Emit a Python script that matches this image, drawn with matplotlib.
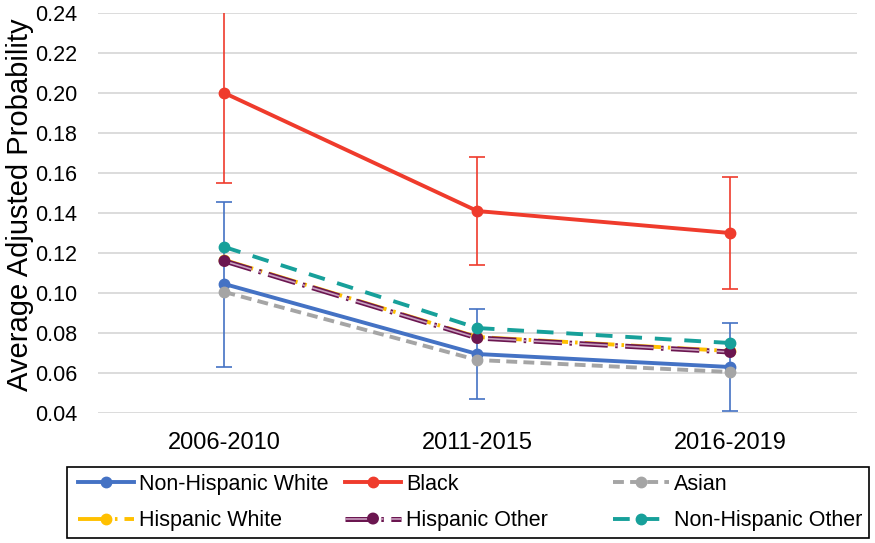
import matplotlib.pyplot as plt
import matplotlib.patheffects as pe
from matplotlib.patches import Rectangle
import numpy as np

plt.rcParams['font.family'] = ['Liberation Sans', 'DejaVu Sans']

# periods on the x axis
periods = ["2006-2010", "2011-2015", "2016-2019"]

# average adjusted probability for each group
nh_white = [0.1045, 0.0695, 0.0630]
black = [0.2000, 0.1410, 0.1300]
asian = [0.1005, 0.0665, 0.0605]
hisp_white = [0.1165, 0.0780, 0.0710]
hisp_other = [0.1160, 0.0775, 0.0705]
nh_other = [0.1230, 0.0825, 0.0750]

# confidence intervals (only shown for two groups)
nh_white_low = [0.0630, 0.0470, 0.0410]
nh_white_high = [0.1455, 0.0920, 0.0850]
black_low = [0.1550, 0.1140, 0.1020]
black_high = [0.2445, 0.1680, 0.1580]

x = np.arange(len(periods))

fig = plt.figure(figsize=(8.75, 5.43), dpi=100)
ax = fig.add_axes([0.112, 0.2394, 0.867, 0.7366])

blue = "#4472C4"
red = "#EF3B2C"
gray = "#A5A5A5"
yellow = "#FFC000"
purple = "#6B1650"
teal = "#17A09A"

# error bars first so they sit behind the lines
ax.errorbar(x, nh_white, yerr=[np.array(nh_white) - nh_white_low, np.array(nh_white_high) - nh_white],
            fmt="none", ecolor=blue, elinewidth=1.2, capsize=6, capthick=1.2, zorder=2)
ax.errorbar(x, black, yerr=[np.array(black) - black_low, np.array(black_high) - black],
            fmt="none", ecolor=red, elinewidth=1.2, capsize=6, capthick=1.2, zorder=2)

l1, = ax.plot(x, nh_white, color=blue, lw=2.8, marker="o", ms=7.5, label="Non-Hispanic White", zorder=3)
l2, = ax.plot(x, black, color=red, lw=2.8, marker="o", ms=7.5, label="Black", zorder=3)
l3, = ax.plot(x, asian, color=gray, lw=2.8, ls=(0, (2.8, 1.6)), marker="o", ms=7.5, label="Asian", zorder=3)
l4, = ax.plot(x, hisp_white, color=yellow, lw=2.8, ls=(0, (7.7, 1.8, 0.65, 1.8)), marker="o", ms=7.5,
              label="Hispanic White", zorder=3)
# compound purple line: dark outline with a light inner stripe
l5, = ax.plot(x, hisp_other, color="#C9A0C0", lw=1.2, ls=(0, (17, 4.5, 1.5, 4.5)), marker="o", ms=5,
              mfc=purple, mec=purple, label="Hispanic Other", zorder=3,
              path_effects=[pe.Stroke(linewidth=3.6, foreground=purple), pe.Normal()])
l6, = ax.plot(x, nh_other, color=teal, lw=2.8, ls=(0, (4.3, 3.3)), marker="o", ms=7.5,
              label="Non-Hispanic Other", zorder=3)

ax.set_xlim(-0.5, 2.5)
ax.set_ylim(0.04, 0.24)
ax.set_yticks(np.arange(0.04, 0.2401, 0.02))
ax.yaxis.set_major_formatter(plt.FormatStrFormatter("%.2f"))
ax.set_xticks(x)
ax.set_xticklabels(periods)
ax.tick_params(axis="y", length=0, labelsize=15.5, pad=15)
ax.tick_params(axis="x", length=0, labelsize=17, pad=14)
ax.grid(axis="y", color="#D9D9D9", lw=1.3)
ax.set_axisbelow(True)
for s in ax.spines.values():
    s.set_visible(False)

ax.set_ylabel("Average Adjusted Probability", fontsize=21)
ax.yaxis.set_label_coords(-0.085, 0.521)

# legend: three equal-width columns inside one black frame
fig.add_artist(Rectangle((67 / 875, 1 - 538 / 543), 802 / 875, 71 / 543, transform=fig.transFigure,
                         fill=False, edgecolor="black", lw=1.2))
cols = [([l1, l4], 78), ([l2, l5], 345), ([l3, l6], 613)]
for handles, xpix in cols:
    fig.legend(handles=handles, loc="upper left", bbox_to_anchor=(xpix / 875, 1 - 474 / 543),
               frameon=False, fontsize=15.5, handlelength=2.6, handletextpad=0.25,
               borderpad=0, borderaxespad=0, labelspacing=0.7)

fig.savefig("out.png", dpi=100)
